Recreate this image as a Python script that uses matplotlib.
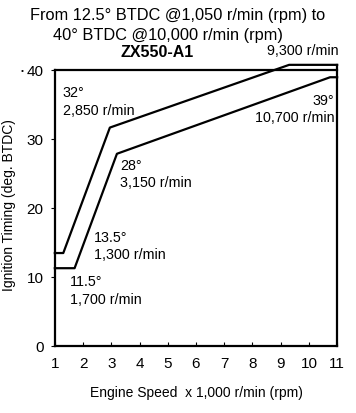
import matplotlib
matplotlib.use("Agg")
from matplotlib import pyplot as plt

# advance curves (x 1,000 r/min, deg. BTDC)
upper_rpm = [1.0, 1.3, 2.95, 9.3, 11.0]
upper_deg = [13.5, 13.5, 31.7, 40.8, 40.8]
lower_rpm = [1.0, 1.7, 3.2, 10.75, 11.0]
lower_deg = [11.3, 11.3, 27.9, 39.0, 39.0]

x_ticks = list(range(1, 12))
y_ticks = [0, 10, 20, 30, 40]

plt.rcParams['font.family'] = ['Liberation Sans', 'DejaVu Sans']

fig = plt.figure(figsize=(3.56, 4.13), dpi=100)
ax = fig.add_axes([0.154, 0.162, 0.793, 0.681])

ax.plot(upper_rpm, upper_deg, color='black', lw=1.6, clip_on=False)
ax.plot(lower_rpm, lower_deg, color='black', lw=1.6, clip_on=False)

# box: top at 40, right edge up to the top curve
ax.plot([1, 11], [40, 40], color='black', lw=1.6, clip_on=False)
ax.plot([11, 11], [0, 40.8], color='black', lw=1.6, clip_on=False)

ax.set_xlim(1, 11)
ax.set_ylim(0, 40.8)
ax.spines['top'].set_visible(False)
ax.spines['right'].set_visible(False)
ax.spines['left'].set_bounds(0, 40)
for s in ('left', 'bottom'):
    ax.spines[s].set_linewidth(1.6)

ax.set_xticks(x_ticks)
ax.set_yticks(y_ticks)
ax.tick_params(axis='x', direction='in', length=3, labelsize=11, pad=8)
ax.tick_params(axis='y', direction='out', length=3, labelsize=11, pad=5)

ax.set_xlabel('Engine Speed  x 1,000 r/min (rpm)', fontsize=10, labelpad=11)
ax.set_ylabel('Ignition Timing (deg. BTDC)', fontsize=10, labelpad=8)

notes = [
    (1.28, 35.4, '32°\n2,850 r/min', 'left'),
    (3.3, 24.9, '28°\n3,150 r/min', 'left'),
    (2.38, 14.4, '13.5°\n1,300 r/min', 'left'),
    (1.53, 8.0, '11.5°\n1,700 r/min', 'left'),
    (10.9, 34.3, '39°\n10,700 r/min', 'right'),
]
for x, y, s, ha in notes:
    ax.text(x, y, s, fontsize=10.3, ha=ha, va='center', linespacing=1.3)

fig.text(0.5, 0.962, 'From 12.5° BTDC @1,050 r/min (rpm) to', ha='center', va='center', fontsize=11.8)
fig.text(0.148, 0.914, '40° BTDC @10,000 r/min (rpm)', ha='left', va='center', fontsize=11.8)
fig.text(0.44, 0.872, 'ZX550-A1', ha='center', va='center', fontsize=11.5, fontweight='bold')
fig.text(0.95, 0.877, '9,300 r/min', ha='right', va='center', fontsize=10.3)
fig.text(0.062, 0.826, '•', ha='center', va='center', fontsize=6)

fig.savefig('out.png', dpi=100)
